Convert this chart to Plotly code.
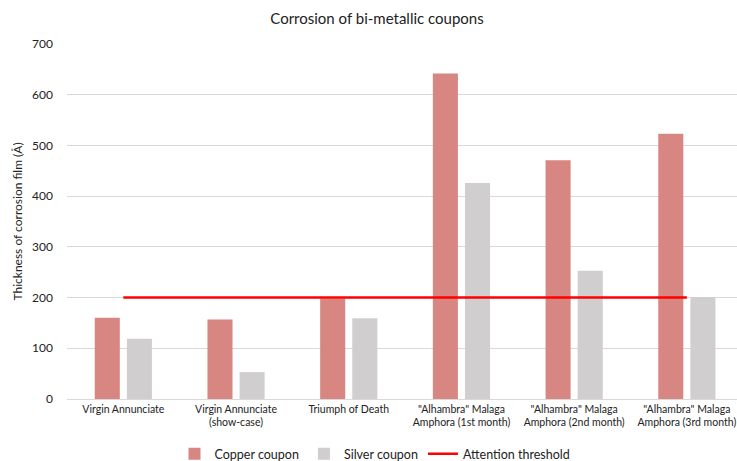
import plotly.graph_objects as go

categories = [
    "Virgin Annunciate",
    "Virgin Annunciate<br>(show-case)",
    "Triumph of Death",
    "\"Alhambra\" Malaga<br>Amphora (1st month)",
    "\"Alhambra\" Malaga<br>Amphora (2nd month)",
    "\"Alhambra\" Malaga<br>Amphora (3rd month)",
]
copper = [160, 157, 198, 642, 471, 523]
silver = [119, 53, 159, 426, 253, 201]
threshold = [200, 200, 200, 200, 200, 200]

FONT = "Lato"
TXT = "#222222"

fig = go.Figure()
fig.add_trace(go.Bar(name="Copper coupon", x=categories, y=copper,
                     marker=dict(color="#d88681", line=dict(width=0))))
fig.add_trace(go.Bar(name="Silver coupon", x=categories, y=silver,
                     marker=dict(color="#d0cece", line=dict(width=0))))
fig.add_trace(go.Scatter(name="Attention threshold", x=categories, y=threshold,
                         mode="lines", line=dict(color="#ff0000", width=2.5)))

fig.update_layout(
    width=737, height=461,
    margin=dict(l=67, r=0, t=44, b=62, autoexpand=False),
    paper_bgcolor="white", plot_bgcolor="white",
    barmode="group", bargap=0.43, bargroupgap=0.22,
    font=dict(family=FONT, color=TXT),
    title=dict(text="Corrosion of bi-metallic coupons", x=377/737, xanchor="center",
               y=1 - 19/461, yanchor="middle",
               font=dict(size=15, color=TXT, family=FONT)),
    xaxis=dict(range=[-0.5, 5.445], showgrid=False, showline=True, automargin=False,
               linecolor="#d9d9d9", linewidth=1, ticks="",
               tickfont=dict(size=10.5, color=TXT, family=FONT)),
    yaxis=dict(range=[0, 700], dtick=100, showgrid=True, gridcolor="#d9d9d9",
               gridwidth=1, zeroline=False, showline=False, ticks="", automargin=False,
               ticklabelstandoff=13,
               tickfont=dict(size=12, color=TXT, family=FONT)),
    legend=dict(orientation="h", xref="container", yref="container",
                x=375/737, xanchor="center", y=7/461, yanchor="middle",
                font=dict(size=12.5, color=TXT, family=FONT),
                itemwidth=30, tracegroupgap=0),
    showlegend=True,
    annotations=[dict(text="Thickness of corrosion film (Å)", xref="paper", yref="paper",
                      x=-50/670, y=0.5, xanchor="center", yanchor="middle",
                      textangle=-90, showarrow=False,
                      font=dict(size=12, color=TXT, family=FONT))],
)

fig.write_html("out.html", config={"displayModeBar": False},
               post_script="document.body.style.margin='0';")
